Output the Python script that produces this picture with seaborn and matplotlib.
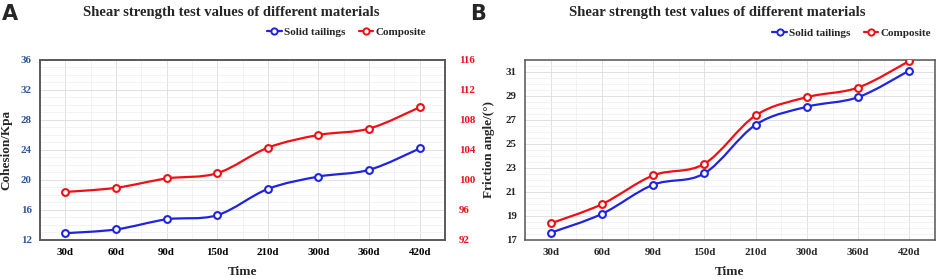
import matplotlib
matplotlib.use("Agg")
import matplotlib.pyplot as plt
import numpy as np
import pandas as pd
import seaborn as sns
from matplotlib.lines import Line2D
from matplotlib.path import Path
from matplotlib.patches import PathPatch
from matplotlib.ticker import MultipleLocator

days = ["30d", "60d", "90d", "150d", "210d", "300d", "360d", "420d"]
cohesion_tailings = [12.9, 13.4, 14.75, 15.3, 18.8, 20.45, 21.35, 24.2]
cohesion_composite = [98.4, 98.95, 100.2, 100.9, 104.3, 106.0, 106.85, 109.7]
friction_tailings = [17.6, 19.17, 21.6, 22.55, 26.6, 28.1, 28.9, 31.12]
friction_composite = [18.38, 19.98, 22.38, 23.35, 27.38, 28.9, 29.7, 31.92]

BLUE = "#1f24e0"
RED = "#f00f14"
TICK_BLUE = "#2f5597"
FRAME = "#555555"
SERIF = ["Liberation Serif", "DejaVu Serif"]

sns.set_theme(style="white")
plt.rcParams["font.family"] = SERIF
plt.rcParams["font.weight"] = "bold"


def smooth_curve(ax, xs, ys, color):
    # Excel-style smoothed line: cubic Bezier segments through the data points
    xs = np.asarray(xs, float)
    ys = np.asarray(ys, float)
    pts = np.column_stack([xs, ys])
    verts = [pts[0]]
    codes = [Path.MOVETO]
    n = len(pts)
    for i in range(n - 1):
        p0 = pts[i - 1] if i > 0 else pts[i]
        p1 = pts[i]
        p2 = pts[i + 1]
        p3 = pts[i + 2] if i + 2 < n else pts[i + 1]
        c1 = p1 + (p2 - p0) / 6.0
        c2 = p2 - (p3 - p1) / 6.0
        verts += [c1, c2, p2]
        codes += [Path.CURVE4] * 3
    patch = PathPatch(Path(verts, codes), fill=False, edgecolor=color, lw=1.6, zorder=3)
    ax.add_patch(patch)
    df = pd.DataFrame({"x": xs, "y": ys})
    sns.scatterplot(data=df, x="x", y="y", ax=ax, s=24, facecolor="white",
                    edgecolor=color, linewidth=1.5, zorder=4, legend=False)


def style_axes(ax, ylim, major, minor):
    ax.set_xlim(-0.5, len(days) - 0.5)
    ax.set_ylim(*ylim)
    ax.set_xticks(np.arange(len(days)))
    ax.set_xticklabels(days)
    ax.xaxis.set_minor_locator(MultipleLocator(0.5))
    ax.yaxis.set_major_locator(MultipleLocator(major))
    ax.yaxis.set_minor_locator(MultipleLocator(minor))
    ax.grid(which="major", color="#dcdcdc", lw=0.6)
    ax.grid(which="minor", color="#efefef", lw=0.5)
    ax.set_axisbelow(True)
    ax.tick_params(which="both", length=0, labelsize=7.8, pad=6)
    for lbl in ax.get_xticklabels() + ax.get_yticklabels():
        lbl.set_fontweight("bold")
    for s in ax.spines.values():
        s.set_color(FRAME)
        s.set_linewidth(1.1)
    ax.set_xlabel("Time", fontsize=9.5, fontweight="bold", labelpad=6.5)


def legend(fig, x, y):
    handles = [
        Line2D([], [], color=BLUE, lw=1.6, marker="o", ms=4.5, mfc="white", mec=BLUE, mew=1.4),
        Line2D([], [], color=RED, lw=1.6, marker="o", ms=4.5, mfc="white", mec=RED, mew=1.4),
    ]
    fig.legend(handles, ["Solid tailings", "Composite"], loc="center right",
               bbox_to_anchor=(x, y), ncol=2, frameon=False, handlelength=1.3,
               handletextpad=0.2, columnspacing=1.2,
               prop={"family": SERIF, "weight": "bold", "size": 8})


fig = plt.figure(figsize=(9.41, 2.79), dpi=100)
x = np.arange(len(days))

# Panel A: cohesion
axA = fig.add_axes([0.0425, 0.14, 0.4305, 0.645])
style_axes(axA, (12, 36), 4, 1)
axA.tick_params(axis="y", colors=TICK_BLUE)
axA.tick_params(axis="x", colors="black")
axA2 = axA.twinx()
axA2.set_ylim(92, 116)
axA2.yaxis.set_major_locator(MultipleLocator(4))
axA2.tick_params(length=0, labelsize=7.8, colors=RED, pad=10)
for lbl in axA2.get_yticklabels():
    lbl.set_fontweight("bold")
for s in axA2.spines.values():
    s.set_color(FRAME)
    s.set_linewidth(1.1)
smooth_curve(axA, x, cohesion_tailings, BLUE)
smooth_curve(axA2, x, cohesion_composite, RED)
axA.set_ylabel("Cohesion/Kpa", fontsize=9.5, fontweight="bold", labelpad=6)
axA2.set_ylabel("")

# Panel B: friction angle
axB = fig.add_axes([0.558, 0.14, 0.4356, 0.645])
style_axes(axB, (17, 32), 2, 0.5)
smooth_curve(axB, x, friction_tailings, BLUE)
smooth_curve(axB, x, friction_composite, RED)
axB.set_ylabel("Friction angle/(°)", fontsize=9.5, fontweight="bold", labelpad=8)
axB.set_yticks(np.arange(17, 32, 2))

for xt in (0.246, 0.762):
    fig.text(xt, 0.98, "Shear strength test values of different materials",
             ha="center", va="top", fontsize=10.5, fontweight="bold", family=SERIF)
fig.text(0.002, 0.985, "A", ha="left", va="top", fontsize=15, fontweight="bold", family="DejaVu Sans")
fig.text(0.500, 0.985, "B", ha="left", va="top", fontsize=15, fontweight="bold", family="DejaVu Sans")

legend(fig, 0.463, 0.885)
legend(fig, 1.0, 0.88)

fig.savefig("out.png", dpi=100)
